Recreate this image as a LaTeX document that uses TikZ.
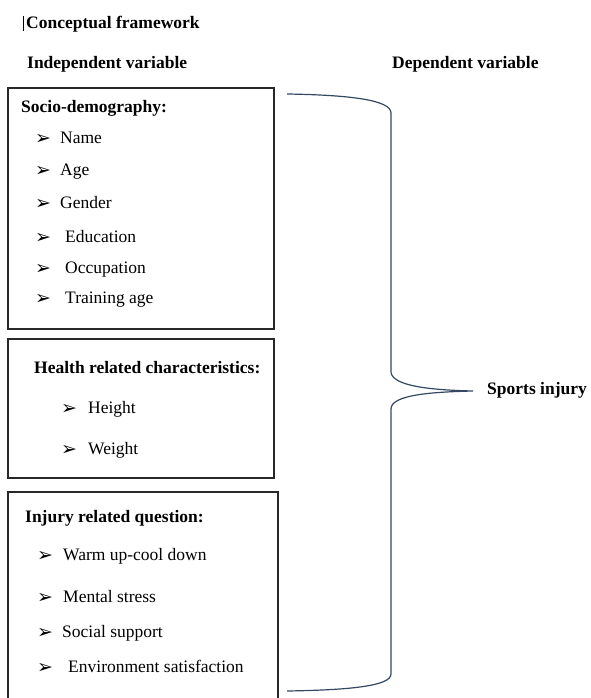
\documentclass[tikz,border=0pt]{standalone}
\usepackage{fontspec}
\setmainfont{Liberation Serif}
\newfontfamily\dejavu{DejaVu Sans}
\definecolor{bracecol}{RGB}{52,72,100}
\definecolor{boxcol}{RGB}{40,40,40}
\begin{document}
\begin{tikzpicture}[x=1pt,y=-1pt,
  txt/.style={anchor=base west,inner sep=0pt,font=\fontsize{17.5}{21}\selectfont},
  hdr/.style={txt,font=\fontsize{17.5}{21}\selectfont\bfseries},
  bul/.style={anchor=base west,inner sep=0pt,font=\dejavu\fontsize{19}{21}\selectfont},
  boxline/.style={draw=boxcol,line width=1.1pt},
  bracel/.style={draw=bracecol,line width=1.2pt}]
\useasboundingbox (0,0) rectangle (590,698);
% cursor
\draw[line width=0.7pt] (23,16) -- (23,31);
\node[hdr] (title) at (26,29) {Conceptual framework};
\node[hdr] (indep) at (27,69) {Independent variable};
\node[hdr] (dep) at (392,69) {Dependent variable};
% box 1
\draw[boxline] (8,88) rectangle (274,329);
\node[hdr] (sd) at (21,113) {Socio-demography:};
\foreach \y/\t/\xx/\n in {143/Name/60/a1,175/Age/60/a2,208/Gender/60/a3,242/Education/65/a4,273/Occupation/65/a5,303/Training age/65/a6}{
  \node[bul] (b\n) at (35,\y+1) {➢};
  \node[txt] (\n) at (\xx,\y) {\t};
}
% box 2
\draw[boxline] (8,339) rectangle (274,478);
\node[hdr] (hr) at (34,373) {Health related characteristics:};
\node[bul] (bh1) at (61,414) {➢};
\node[txt] (h1) at (88,413) {Height};
\node[bul] (bh2) at (61,455) {➢};
\node[txt] (h2) at (88,454) {Weight};
% box 3
\draw[boxline] (8,700) -- (8,492) -- (278,492) -- (278,700);
\node[hdr] (ir) at (25,522) {Injury related question:};
\node[bul] (bi1) at (37,561) {➢};
\node[txt] (i1) at (63,560) {Warm up-cool down};
\node[bul] (bi2) at (37,603) {➢};
\node[txt] (i2) at (63,602) {Mental stress};
\node[bul] (bi3) at (37,638) {➢};
\node[txt] (i3) at (62,637) {Social support};
\node[bul] (bi4) at (37,673) {➢};
\node[txt] (i4) at (68,672) {Environment satisfaction};
% brace
\coordinate (btop) at (287,94);
\coordinate (bbot) at (287,691);
\coordinate (tip) at (473,391);
\draw[bracel] (btop) .. controls (350,95) and (391,100) .. (391,113)
  -- (391,372) .. controls (392,386) and (430,390) .. (tip)
  .. controls (430,392) and (391,395) .. (391,409)
  -- (391,674) .. controls (391,686) and (350,690) .. (bbot);
\node[hdr] (si) at (487,394) {Sports injury};
\end{tikzpicture}
\end{document}
